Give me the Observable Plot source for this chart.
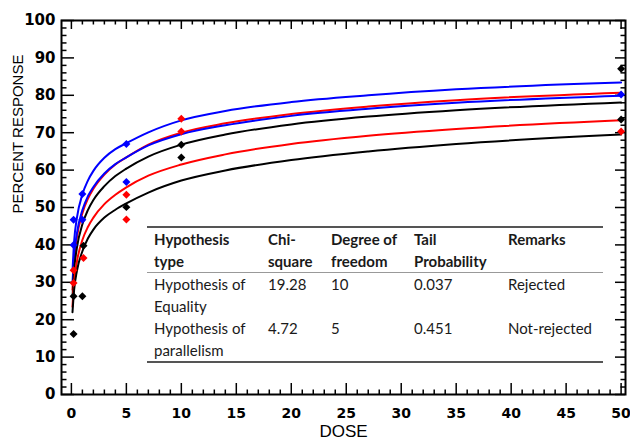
<!DOCTYPE html>
<html><head><meta charset="utf-8">
<script src="https://cdn.jsdelivr.net/npm/d3@7"></script>
<script src="https://cdn.jsdelivr.net/npm/@observablehq/plot@0.6"></script>
<style>
body{margin:0;background:#fff;}
#wrap{position:relative;width:630px;height:442px;}
#tbl{position:absolute;left:147px;top:226px;width:456px;font-family:Lato,"Noto Sans",sans-serif;font-size:15px;color:#1a1a1a;}
#tbl table{border-collapse:collapse;table-layout:fixed;width:456px;}
#tbl td,#tbl th{padding:0 0 0 7px;text-align:left;vertical-align:top;line-height:22px;white-space:pre-line;}
#tbl th{font-weight:bold;}
#tbl thead tr{border-top:2px solid #555;border-bottom:1px solid #999;}
#tbl tbody tr:last-child{border-bottom:2px solid #555;}
</style></head>
<body><div id="wrap"></div>
<script>
// fitted curves, sampled at doses
const curveDose  = [0.1, 0.25, 0.5, 1, 1.5, 2, 3, 4, 5, 7, 10, 14, 20, 27, 35, 50];
const blueUpper  = [33.0, 41.0, 47.2, 53.5, 57.2, 59.8, 63.3, 65.6, 67.2, 70.1, 73.3, 75.8, 78.2, 80.0, 81.6, 83.4];
const redUpper   = [28.0, 35.7, 42.0, 48.5, 52.3, 55.0, 58.8, 61.5, 63.4, 66.8, 70.0, 72.5, 75.0, 77.0, 78.7, 80.7];
const blueLower  = [29.8, 37.2, 43.1, 49.3, 53.0, 55.5, 59.1, 61.6, 63.4, 66.6, 69.6, 72.0, 74.5, 76.4, 78.0, 79.9];
const blackUpper = [26.0, 33.2, 39.2, 45.5, 49.3, 52.0, 55.7, 58.4, 60.4, 63.6, 66.8, 69.5, 72.2, 74.3, 76.0, 78.1];
const redLower   = [23.5, 30.1, 35.5, 41.3, 44.8, 47.3, 50.9, 53.4, 55.4, 58.5, 61.5, 64.2, 67.0, 69.2, 71.0, 73.3];
const blackLower = [22.0, 28.0, 33.0, 38.3, 41.7, 44.1, 47.3, 49.4, 51.1, 54.0, 57.2, 59.9, 62.7, 65.0, 67.0, 69.5];

// observed points
const blueDose   = [0.2, 0.2, 1, 1, 5, 5, 50];
const blueResp   = [40.0, 46.7, 46.7, 53.6, 56.8, 67.0, 80.2];
const redDose    = [0.2, 0.2, 1.1, 5, 5, 10, 10, 50];
const redResp    = [29.8, 33.2, 36.5, 53.4, 46.8, 73.7, 70.3, 70.3];
const blackDose  = [0.2, 0.2, 1, 1.1, 5, 10, 10, 50, 50];
const blackResp  = [16.2, 26.3, 26.3, 39.8, 50.1, 66.8, 63.4, 87.1, 73.5];

const xMajor = [0, 5, 10, 15, 20, 25, 30, 35, 40, 45, 50];
const yMajor = [0, 10, 20, 30, 40, 50, 60, 70, 80, 90, 100];

// table
const tableHead = ["Hypothesis\ntype", "Chi-\nsquare", "Degree of\nfreedom", "Tail\nProbability", "Remarks"];
const tableRows = [
  ["Hypothesis of\nEquality", "19.28", "10", "0.037", "Rejected"],
  ["Hypothesis of\nparallelism", "4.72", "5", "0.451", "Not-rejected"]
];

const xMinor = d3.range(0, 51, 1).filter(d => d % 5 !== 0);
const yMinor = d3.range(0, 101, 2).filter(d => d % 10 !== 0);

const W = 630, H = 442, mL = 61, mR = 5, mT = 20, mB = 48;
const fw = W - mL - mR, fh = H - mT - mB;
const xDom = [-0.9, 50.4], yDom = [0, 100];
const pxX = (xDom[1] - xDom[0]) / fw, pxY = (yDom[1] - yDom[0]) / fh; // data units per pixel

const curves = [
  {v: blueUpper, c: "#0000ff"}, {v: redUpper, c: "#ff0000"}, {v: blueLower, c: "#0000ff"},
  {v: blackUpper, c: "#000000"}, {v: redLower, c: "#ff0000"}, {v: blackLower, c: "#000000"}
];
const lineMarks = curves.map(({v, c}) =>
  Plot.line(curveDose.map((d, i) => ({dose: d, resp: v[i]})), {x: "dose", y: "resp", stroke: c, strokeWidth: 2, curve: "monotone-x"}));
const pts = (ds, rs, c) => Plot.dot(ds.map((d, i) => ({dose: d, resp: rs[i]})),
  {x: "dose", y: "resp", symbol: "diamond2", r: 3.6, fill: c, stroke: "none"});

const ts = {stroke: "black", strokeWidth: 1.5};
// inward ticks on all four sides
const ticksBottom = (t, len) => Plot.tickX([...t], {x: d => d, insetTop: fh - len, ...ts});
const ticksLeft = (t, len) => Plot.tickY([...t], {y: d => d, insetRight: fw - len, ...ts});
const ticksTop = (t, len) => Plot.ruleX([...t], {x: d => d, y1: yDom[1], y2: yDom[1] - len * pxY, ...ts});
const ticksRight = (t, len) => Plot.ruleY([...t], {y: d => d, x1: xDom[1], x2: xDom[1] - len * pxX, ...ts});

const chart = Plot.plot({
  width: W, height: H,
  marginLeft: mL, marginRight: mR, marginTop: mT, marginBottom: mB,
  x: {domain: xDom},
  y: {domain: yDom},
  style: {background: "#fff", overflow: "visible"},
  marks: [
    Plot.axisX({anchor: "bottom", ticks: [...xMajor], tickSize: 0, tickPadding: 14, label: null, fontSize: 14, fontWeight: "bold", fontFamily: "DejaVu Sans", fill: "black"}),
    Plot.axisY({anchor: "left", ticks: [...yMajor], tickSize: 0, tickPadding: 6, label: null, fontSize: 15, fontWeight: "bold", fontFamily: "DejaVu Sans", fill: "black"}),
    ticksBottom(xMajor, 11), ticksBottom(xMinor, 4.5),
    ticksLeft(yMajor, 13), ticksLeft(yMinor, 5.5),
    ticksTop(xMajor, 9), ticksTop(xMinor, 4.5),
    ticksRight(yMajor, 10), ticksRight(yMinor, 4.5),
    Plot.frame({stroke: "black", strokeWidth: 2}),
    ...lineMarks,
    pts(blackDose, blackResp, "#000000"),
    pts(redDose, redResp, "#ff0000"),
    pts(blueDose, blueResp, "#0000ff"),
    Plot.text(["PERCENT RESPONSE"], {text: d => d, frameAnchor: "left", dx: -43, dy: 6, rotate: -90, fontSize: 15, fontFamily: "Liberation Sans", fill: "black"}),
    Plot.text(["DOSE"], {text: d => d, frameAnchor: "bottom", dy: 42, fontSize: 17, fontFamily: "Liberation Sans", fill: "black"})
  ]
});

const wrap = document.getElementById("wrap");
wrap.appendChild(chart);

const tbl = document.createElement("div");
tbl.id = "tbl";
const widths = [114, 63, 83, 94, 102];
let html = "<table><colgroup>" + widths.map(w => `<col style="width:${w}px">`).join("") + "</colgroup>";
html += "<thead><tr>" + tableHead.map(h => `<th>${h}</th>`).join("") + "</tr></thead><tbody>";
for (const r of tableRows) html += "<tr>" + r.map(c => `<td>${c}</td>`).join("") + "</tr>";
html += "</tbody></table>";
tbl.innerHTML = html;
wrap.appendChild(tbl);
</script></body></html>
